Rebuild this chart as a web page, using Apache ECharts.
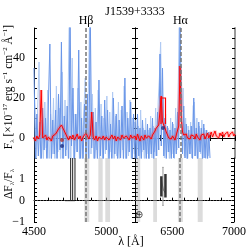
<!DOCTYPE html>
<html><head><meta charset="utf-8">
<script src="https://cdn.jsdelivr.net/npm/echarts@6/dist/echarts.min.js"></script>
<style>html,body{margin:0;padding:0;background:#fff}#c{width:249px;height:249px}</style>
</head><body><div id="c"></div>
<script>
const FONT = 'Liberation Serif';
const title = 'J1539+3333';
const leftRange = [4500, 5200];
const rightRange = [6200, 7000];
const lineNames = ['Hβ', 'Hα'];
const lineWaves = [4861, 6563];

// observed spectrum (blue), flux in 1e-17 units
const blueLeftStart = 4500, blueStep = 10;
const blueLeft = [35,-14,12,-9,8,-15,15,-6,10,-16,18,47,-13,9,-8,14,-15,22,-6,48,-14,11,-9,16,-16,60,-4,25,-14,12,-7,44,-15,10,-13,17,-8,22,-14,62,-5,13,-15,8,-13,29,-9,11,-14,19,-6,14,-13,7,-15,20,-8,12,-14,9,-10,16,-12,30,-15,10,-7,18,-14,12,-11];
const blueLeftLightStart = 4505;
const blueLeftLight = [20,-12,14,38,-14,9,-12,18,-5,24,-15,12,-8,20,-14,26,-7,15,-15,33,-11,19,-6,14,65,-12,40,-14,12,-7,25,-12,18,-15,12,30,-14,16,58,-8,22,-13,15,-6,24,-12,17,-15,10,-8,21,-14,13,-7,23,-15,11,-9,18,-14,14,-6,26,-14,13,-9,19,-13,10,-8];
const blueRightStart = 6200;
const blueRight = [8,-12,12,-9,5,-13,9,-6,4,-12,7,-11,5,-8,10,-12,5,-9,13,-6,42,-4,35,-9,10,-12,6,-7,4,-12,8,-10,5,-8,13,-5,60,20,-8,16,-10,7,-12,4,-8,6,-12,20,-9,5,-12,8,-7,5,-12,7,-10,4,-12,3,-10];
const blueRightLightStart = 6205;
const blueRightLight = [9,-11,6,-12,14,-7,5,-12,10,-8,4,-12,11,-10,6,-7,15,-9,18,30,48,9,20,-10,12,-7,5,-11,10,-8,7,-12,15,-6,22,65,40,13,25,-9,10,-11,6,-8,8,-10,16,18,-9,10,-11,6,-8,9,-10,5,-12,4,-9,2];

// model / smoothed spectrum (red)
const redLeftStart = 4500, redStep = 10;
const redLeft = [0.5,-1.5,1,-0.5,1.5,24,0,-1,1.5,-1,0.5,1.5,-1.5,1,0,2,3,4.5,5.5,6.5,5,3.5,2,0.5,-1,1,-0.5,1.5,-1,0.5,2,-0.5,1,-1.5,0.5,1,2.5,1,-0.5,1.5,13,0.5,-1,1,-1.5,0.5,1.5,-0.5,1,-1,0.5,1.5,-1,0,1.5,-0.5,1,-1.5,0.5,1,-1,1.5,0,-1,1,0.5,-1,1.5,0,-0.5,1];
const redRightStart = 6200;
const redRight = [1,-1,2,0,-1.5,1,0.5,-1,1.5,0,-1,1,0.5,-0.5,1.5,2,3.5,5,6,6.5,7,21,8,6.5,5,3,1.5,0,1,-0.5,1,0.5,-1,1.5,2,6,36,10,3,1.5,0.5,2,0,1,-0.5,1.5,0.5,1,-0.5,2,0.5,1,-1,1.5,0.5,2,-0.5,1,2.5,0,1.5,3,0.5,1.5,3.5,1,2,0,2.5,1,3,0.5,2,1,3,0.5,2,1.5,3,1,2];
const redProfile = [[6408,7],[6408,20],[6444,20],[6444,7]];
const redDots = [[4694,-1]];
const navyDotsLeft = [[4694,-4]];
const navyDotsRight = [[6424,5]];

// residual panel
const bandsLeft = [[4849,4883],[4946,4976],[4994,5027]];
const bandsRight = [[6210,6242],[6347,6378],[6547,6587],[6707,6747]];
const ratioLeft = [[[4715,0],[4754,0],[4754,2]],[[4768,2],[4768,0]],[[4784,2],[4784,0],[4754,0]]];
const ratioRightThick = [[[6413,1.15],[6413,0.2]],[[6446,1.25],[6446,0.15]]];
const ratioRightThin = [[[6413,1.0],[6430,0.5],[6446,0.35]]];
const errBarRight = [[[6426,-0.22],[6426,1.56]],[[6420,1.56],[6432,1.56]],[[6420,-0.22],[6432,-0.22]]];
const telluric = [[6232,-0.67]];

const toXY = (start, step, arr) => arr.map((v, i) => [start + i * step, v]);

const txt = {fontFamily: FONT, fontSize: 12, color: '#000'};
const G = [
  {left: 34, top: 28, width: 101, height: 130},
  {left: 135, top: 28, width: 100, height: 130},
  {left: 34, top: 158, width: 101, height: 64},
  {left: 135, top: 158, width: 100, height: 64}
];
function xAx(grid, range, pos, labels) {
  return {type: 'value', gridIndex: grid, position: pos, min: range[0], max: range[1], interval: 100,
    axisLine: {show: true, lineStyle: {color: '#000', width: 1}},
    axisTick: {show: true, inside: true, length: 3, lineStyle: {color: '#000'}},
    axisLabel: {show: labels, margin: 4, ...txt, hideOverlap: false, showMinLabel: true, showMaxLabel: true,
      formatter: v => (v % 500 === 0 ? String(v) : '')},
    splitLine: {show: false}};
}
function yAx(grid, min, max, interval, pos, labels, fmt, lineColor, lineWidth) {
  return {type: 'value', gridIndex: grid, position: pos, min: min, max: max, interval: interval,
    axisLine: {show: true, onZero: false, lineStyle: {color: lineColor || '#000', width: lineWidth || 1}},
    axisTick: {show: true, inside: true, length: 3, lineStyle: {color: '#000'}},
    axisLabel: {show: labels, margin: 9, ...txt, showMinLabel: true, showMaxLabel: true, formatter: fmt},
    splitLine: {show: false}};
}
const fmtTop = v => ([0, 20, 40].includes(v) ? String(v) : '');
const fmtBot = v => {
  if (Math.abs(v - Math.round(v)) > 1e-6) return '';
  const r = Math.round(v);
  if (r === 2) return '';
  return r < 0 ? '\u2212' + Math.abs(r) : String(r);
};

const dashLine = (x, label) => ({
  symbol: 'none', silent: true, animation: false,
  lineStyle: {type: [4, 2], color: '#777', width: 1.5},
  label: {show: !!label, position: 'end', distance: 1, formatter: label || '', ...txt},
  data: [{xAxis: x}]
});

function blueSeries(xi, yi, start, arr, color) {
  return {type: 'line', xAxisIndex: xi, yAxisIndex: yi, data: toXY(start, blueStep, arr), showSymbol: false,
    animation: false, clip: true, lineStyle: {color: color, width: 1}, z: 2};
}
function redSeries(xi, yi, start, arr) {
  return [
    {type: 'line', xAxisIndex: xi, yAxisIndex: yi, data: toXY(start, redStep, arr), showSymbol: false, animation: false, clip: true,
      lineStyle: {color: 'rgba(255,60,60,0.3)', width: 3.5}, z: 3},
    {type: 'line', xAxisIndex: xi, yAxisIndex: yi, data: toXY(start, redStep, arr), showSymbol: false, animation: false, clip: true,
      lineStyle: {color: '#ff0000', width: 1}, z: 4}
  ];
}
function segs(xi, yi, list, color, width, z) {
  return {type: 'lines', coordinateSystem: 'cartesian2d', xAxisIndex: xi, yAxisIndex: yi, polyline: true, animation: false,
    data: list.map(c => ({coords: c})), lineStyle: {color: color, width: width, opacity: 1}, z: z || 5};
}
const bandArea = (bands) => ({
  silent: true, itemStyle: {color: 'rgba(185,185,185,0.5)'},
  data: bands.map(b => [{xAxis: b[0]}, {xAxis: b[1]}])
});

const option = {
  animation: false,
  grid: G,
  xAxis: [
    xAx(0, leftRange, 'bottom', false), xAx(0, leftRange, 'top', false),
    xAx(1, rightRange, 'bottom', false), xAx(1, rightRange, 'top', false),
    xAx(2, leftRange, 'bottom', true), xAx(3, rightRange, 'bottom', true)
  ],
  yAxis: [
    yAx(0, -10, 55, 5, 'left', true, fmtTop), yAx(0, -10, 55, 5, 'right', false, fmtTop),
    yAx(1, -10, 55, 5, 'left', false, fmtTop), yAx(1, -10, 55, 5, 'right', false, fmtTop, '#999', 2),
    yAx(2, -1, 2, 0.2, 'left', true, fmtBot), yAx(2, -1, 2, 0.2, 'right', false, fmtBot),
    yAx(3, -1, 2, 0.2, 'left', false, fmtBot), yAx(3, -1, 2, 0.2, 'right', false, fmtBot)
  ],
  graphic: [
    {type: 'text', x: 135, y: 12, style: {text: title, fontFamily: FONT, fontSize: 12, fill: '#000', align: 'center', verticalAlign: 'middle'}},
    {type: 'text', x: 131, y: 242, style: {text: 'λ [Å]', fontFamily: FONT, fontSize: 12, fill: '#000', align: 'center', verticalAlign: 'middle'}},
    {type: 'text', x: 9, y: 87, rotation: Math.PI / 2,
      style: {text: '{n|F}{s|λ}{n| [×10}{p|−17}{n| erg s}{p|−1}{n| cm}{p|−2}{n| Å}{p|−1}{n|]}', align: 'center', verticalAlign: 'middle',
        rich: {n: {fontFamily: FONT, fontSize: 11.5, lineHeight: 14}, s: {fontFamily: FONT, fontSize: 7, lineHeight: 14, verticalAlign: 'bottom'},
          p: {fontFamily: FONT, fontSize: 7, lineHeight: 14, verticalAlign: 'top'}}}},
    {type: 'text', x: 9, y: 184, rotation: Math.PI / 2,
      style: {text: '{n|ΔF}{s|λ}{n|/F}{s|λ}', align: 'center', verticalAlign: 'middle',
        rich: {n: {fontFamily: FONT, fontSize: 11.5, lineHeight: 14}, s: {fontFamily: FONT, fontSize: 7, lineHeight: 14, verticalAlign: 'bottom'}}}}
  ],
  series: [
    blueSeries(0, 0, blueLeftLightStart, blueLeftLight, '#b0caf3'),
    Object.assign(blueSeries(0, 0, blueLeftStart, blueLeft, '#6a96e8'), {markLine: dashLine(lineWaves[0], lineNames[0])}),
    ...redSeries(0, 0, redLeftStart, redLeft),
    {type: 'scatter', xAxisIndex: 0, yAxisIndex: 0, data: redDots, symbolSize: 4, itemStyle: {color: '#b03030'}, z: 6},
    {type: 'scatter', xAxisIndex: 0, yAxisIndex: 0, data: navyDotsLeft, symbolSize: 4, itemStyle: {color: '#1a2a80'}, z: 6},

    blueSeries(2, 2, blueRightLightStart, blueRightLight, '#b0caf3'),
    Object.assign(blueSeries(2, 2, blueRightStart, blueRight, '#6a96e8'), {markLine: dashLine(lineWaves[1], lineNames[1])}),
    ...redSeries(2, 2, redRightStart, redRight),
    segs(2, 2, [redProfile], '#ff0000', 1.2, 5),
    {type: 'scatter', xAxisIndex: 2, yAxisIndex: 2, data: navyDotsRight, symbolSize: 4, itemStyle: {color: '#1a2a80'}, z: 6},

    {type: 'line', xAxisIndex: 4, yAxisIndex: 4, data: [], markArea: bandArea(bandsLeft),
      markLine: {symbol: 'none', silent: true, label: {show: false}, data: [
        {xAxis: lineWaves[0], lineStyle: {type: [4, 2], color: '#777', width: 1.5}},
        {yAxis: 0, lineStyle: {type: [1, 2], color: '#555', width: 1}}]}},
    segs(4, 4, ratioLeft, '#222', 1),

    {type: 'line', xAxisIndex: 5, yAxisIndex: 6, data: [], markArea: bandArea(bandsRight),
      markLine: {symbol: 'none', silent: true, label: {show: false}, data: [
        {xAxis: lineWaves[1], lineStyle: {type: [4, 2], color: '#777', width: 1.5}},
        {yAxis: 0, lineStyle: {type: [1, 2], color: '#555', width: 1}}]}},
    segs(5, 6, errBarRight, '#999', 1),
    segs(5, 6, ratioRightThin, '#777', 1),
    segs(5, 6, ratioRightThick, '#333', 2.5),
    {type: 'scatter', xAxisIndex: 5, yAxisIndex: 6, data: telluric, symbolSize: 0,
      label: {show: true, position: 'inside', formatter: '⊕', fontFamily: 'DejaVu Sans', fontSize: 10, color: '#000'}}
  ]
};
const chart = echarts.init(document.getElementById('c'), null, {renderer: 'canvas'});
chart.setOption(option);
</script></body></html>
